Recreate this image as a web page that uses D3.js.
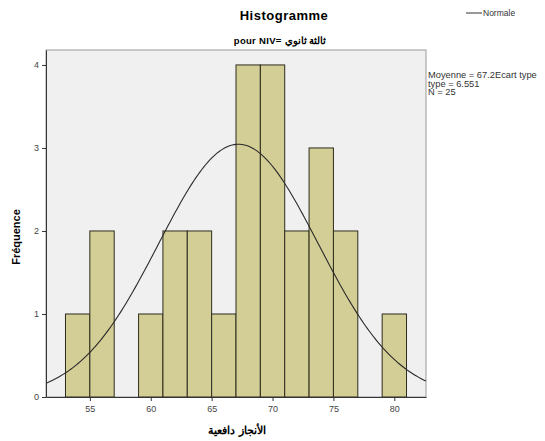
<!DOCTYPE html>
<html>
<head>
<meta charset="utf-8">
<script src="https://cdn.jsdelivr.net/npm/d3@7"></script>
<style>
  body { margin: 0; background: #fff; }
  text { font-family: "Liberation Sans", Arial, sans-serif; }
</style>
</head>
<body>
<div id="chart"></div>
<script>
// histogram bins (lower edge, width 2) and their counts
const binLower = [53, 55, 57, 59, 61, 63, 65, 67, 69, 71, 73, 75, 77, 79];
const binWidth = 2;
const counts = [1, 2, 0, 1, 2, 2, 1, 4, 4, 2, 3, 2, 0, 1];

const xTicks = [55, 60, 65, 70, 75, 80];
const yTicks = [0, 1, 2, 3, 4];

// summary statistics shown at the right
const mean = 67.2, sd = 6.551, n = 25;
const statLines = ["Moyenne = 67.2Ecart type", "type = 6.551", "N = 25"];

const width = 545, height = 441;
const plot = { left: 46, right: 426, top: 50, bottom: 397 };

const svg = d3.select("#chart").append("svg")
    .attr("width", width)
    .attr("height", height);

const x = d3.scaleLinear().domain([51.4, 82.6]).range([plot.left, plot.right]);
const y = d3.scaleLinear().domain([0, 4.18]).range([plot.bottom, plot.top]);

// plot background
svg.append("rect")
    .attr("x", plot.left).attr("y", plot.top)
    .attr("width", plot.right - plot.left)
    .attr("height", plot.bottom - plot.top)
    .attr("fill", "#f0f0f0")
    .attr("stroke", "#9a9a9a");

// bars
svg.append("g").selectAll("rect")
    .data(binLower.map((b, i) => ({ x0: b, x1: b + binWidth, c: counts[i] })).filter(d => d.c > 0))
    .enter().append("rect")
    .attr("x", d => x(d.x0))
    .attr("y", d => y(d.c))
    .attr("width", d => x(d.x1) - x(d.x0))
    .attr("height", d => y(0) - y(d.c))
    .attr("fill", "#d3cd96")
    .attr("stroke", "#2e2c1e")
    .attr("stroke-width", 1);

// normal curve scaled to counts
const dens = v => n * binWidth / (sd * Math.sqrt(2 * Math.PI)) * Math.exp(-0.5 * ((v - mean) / sd) ** 2);
const xs = d3.range(0, 201).map(i => x.domain()[0] + i * (x.domain()[1] - x.domain()[0]) / 200);
svg.append("path")
    .datum(xs)
    .attr("fill", "none")
    .attr("stroke", "#2a2a2a")
    .attr("stroke-width", 1.1)
    .attr("d", d3.line().x(d => x(d)).y(d => y(dens(d))));

// axes
const xAxis = svg.append("g")
    .attr("transform", `translate(0,${plot.bottom})`)
    .call(d3.axisBottom(x).tickValues(xTicks).tickSize(4).tickSizeOuter(0));
const yAxis = svg.append("g")
    .attr("transform", `translate(${plot.left},0)`)
    .call(d3.axisLeft(y).tickValues(yTicks).tickFormat(d3.format("d")).tickSize(4).tickSizeOuter(0));

[xAxis, yAxis].forEach(a => {
    a.select(".domain").attr("stroke", "#333");
    a.selectAll(".tick line").attr("stroke", "#333");
    a.selectAll(".tick text")
        .attr("fill", "#444")
        .style("font-size", "9px")
        .style("font-family", "'Liberation Sans', Arial, sans-serif");
});
xAxis.selectAll(".tick text").attr("dy", "0.9em");

// titles
svg.append("text")
    .attr("x", 284).attr("y", 20)
    .attr("text-anchor", "middle")
    .style("font-size", "13px").style("font-weight", "bold")
    .style("letter-spacing", "0.5px")
    .text("Histogramme");

svg.append("text")
    .attr("x", 280).attr("y", 44)
    .attr("text-anchor", "middle")
    .style("font-size", "9.5px").style("font-weight", "bold")
    .style("letter-spacing", "0.3px")
    .text("pour NIV= ثالثة ثانوي");

svg.append("text")
    .attr("transform", "translate(20,237) rotate(-90)")
    .attr("text-anchor", "middle")
    .style("font-size", "11px").style("font-weight", "bold")
    .text("Fréquence");

svg.append("text")
    .attr("x", 237).attr("y", 434)
    .attr("text-anchor", "middle")
    .attr("direction", "rtl")
    .style("font-size", "11px").style("font-weight", "bold")
    .text("الأنجاز دافعية");

// legend
svg.append("line")
    .attr("x1", 466).attr("x2", 482)
    .attr("y1", 13).attr("y2", 13)
    .attr("stroke", "#333");
svg.append("text")
    .attr("x", 483).attr("y", 16)
    .attr("fill", "#333")
    .style("font-size", "8.5px")
    .text("Normale");

svg.append("g").selectAll("text")
    .data(statLines)
    .enter().append("text")
    .attr("x", 428)
    .attr("y", (d, i) => 78 + i * 8.5)
    .attr("fill", "#333")
    .style("font-size", "9.3px")
    .text(d => d);
</script>
</body>
</html>
